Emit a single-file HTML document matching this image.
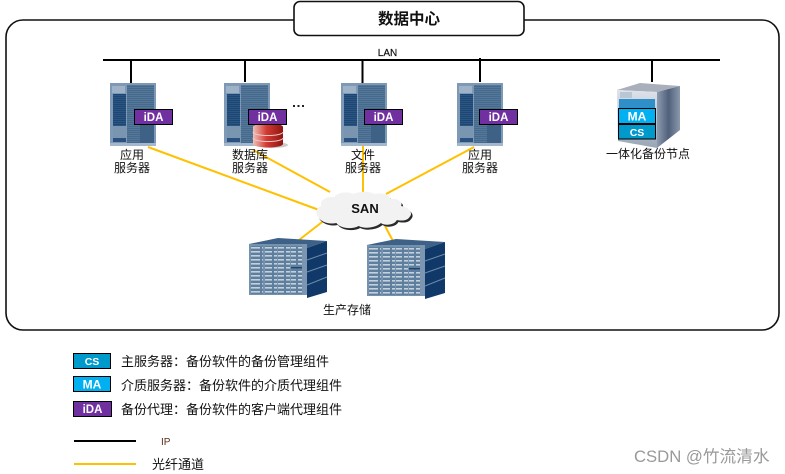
<!DOCTYPE html>
<html><head><meta charset="utf-8"><style>
html,body{margin:0;padding:0;background:#fff}
svg{display:block}
text{font-family:"Liberation Sans","Noto Sans CJK SC",sans-serif;fill:#111}
.c{font-size:12px;text-anchor:middle}
.l{font-size:13px}
.w{font-weight:bold;fill:#fff;text-anchor:middle}
</style></head><body>
<svg width="785" height="474" viewBox="0 0 785 474" xmlns="http://www.w3.org/2000/svg">
<defs>
<pattern id="st" width="3" height="2" patternUnits="userSpaceOnUse"><rect width="3" height="2" fill="#456a8d"/><rect width="3" height="1" fill="#557899"/></pattern>
<pattern id="dk" width="3" height="2" patternUnits="userSpaceOnUse"><rect width="3" height="2" fill="#1d4672"/><rect width="3" height="1" fill="#2b5582"/></pattern>
<pattern id="dr" width="12" height="4" patternUnits="userSpaceOnUse"><rect width="12" height="4" fill="#5f7f9f"/><rect x="1" y="1" width="10" height="1.600" fill="#c4d1dd"/></pattern>
<linearGradient id="side" x1="0" x2="1" y1="0" y2="0"><stop offset="0" stop-color="#8d9bb0"/><stop offset=".5" stop-color="#50617c"/><stop offset="1" stop-color="#8b98ac"/></linearGradient>
<linearGradient id="front" x1="0" x2="0" y1="0" y2="1"><stop offset="0" stop-color="#dfe3ea"/><stop offset="1" stop-color="#9aa5b5"/></linearGradient>
<linearGradient id="red" x1="0" x2="1" y1="0" y2="0"><stop offset="0" stop-color="#f0c0ba"/><stop offset=".45" stop-color="#d23a33"/><stop offset="1" stop-color="#8e1512"/></linearGradient>
<g id="srv">
<rect x="0" y="0" width="46" height="63" fill="#7d99b6"/>
<rect x="2" y="3" width="13" height="7" fill="#9fb3c8"/>
<rect x="3" y="11" width="13" height="32" fill="url(#dk)"/>
<rect x="3" y="43" width="13" height="12" fill="#7a95b0"/>
<rect x="3" y="55" width="13" height="4" fill="#2a5180"/>
<rect x="17" y="2" width="27" height="58" fill="url(#st)"/>
<rect x="30" y="40" width="14" height="20" fill="#3d6286"/>
<rect x="0" y="60" width="46" height="3" fill="#a5b8cb"/>
</g>
<g id="sto">
<polygon points="0,6 29,0 78,3 58,10" fill="#3e6187"/>
<polygon points="58,10 78,3 78,54 58,60" fill="#10396a"/>
<rect x="0" y="6" width="58" height="51" fill="#7491ae"/>
<rect x="2" y="8" width="12" height="48" fill="url(#dr)"/>
<rect x="16" y="8" width="12" height="48" fill="url(#dr)"/>
<rect x="29" y="8" width="12" height="48" fill="url(#dr)"/>
<rect x="42" y="8" width="11" height="48" fill="url(#dr)"/>
<rect x="53" y="6" width="5" height="51" fill="#7c95b0"/>
<path d="M58 22 78 15M58 34 78 27M58 47 78 39" stroke="#6d8aa8" stroke-width="1" fill="none"/>
<rect x="42" y="29" width="11" height="1.500" fill="#1d4672"/>
</g>
<g id="ida"><rect x="0.500" y="0.500" width="38" height="15" fill="#7030a0" stroke="#000"/><text x="19.500" y="12" class="w" style="font-size:11.500px">iDA</text></g>
</defs>

<rect x="6" y="20" width="773" height="310" rx="17" fill="#fff" stroke="#111" stroke-width="1.600"/>
<rect x="294" y="1.500" width="230" height="34" rx="6" fill="#fff" stroke="#111" stroke-width="1.600"/>
<text x="409" y="24" style="font-size:15.500px;font-weight:bold;text-anchor:middle">数据中心</text>

<text x="387.500" y="56" style="font-size:10px;text-anchor:middle;stroke:#111;stroke-width:.2">LAN</text>
<path d="M103 60H720" stroke="#000" stroke-width="2"/>
<path d="M131 60V83M245 60V82M362.500 60V83M480 58V82M652 60V82" stroke="#000" stroke-width="2"/>

<g stroke="#ffc000" stroke-width="2" fill="none">
<path d="M148 147 319 210"/><path d="M253 150 330 192"/><path d="M363 146V193"/><path d="M474 147 386 194"/>
<path d="M326 219 299 240"/><path d="M385 226 393 241"/>
</g>

<use href="#srv" x="110" y="83"/>
<use href="#srv" x="224" y="83"/>
<use href="#srv" x="341" y="83"/>
<use href="#srv" x="457" y="83"/>

<ellipse cx="273" cy="145" rx="15" ry="3" fill="#ccc"/>
<path d="M253 127a15 3.500 0 0 1 30 0v17a15 3.500 0 0 1-30 0z" fill="url(#red)"/>
<path d="M253 132a15 3.500 0 0 0 30 0M253 138a15 3.500 0 0 0 30 0" stroke="#f3c6c2" fill="none" stroke-width="1"/>

<use href="#ida" x="134" y="109"/>
<use href="#ida" x="248" y="109"/>
<use href="#ida" x="364" y="109"/>
<use href="#ida" x="479" y="109"/>

<g fill="#222"><rect x="293" y="105" width="2" height="2"/><rect x="297.500" y="105" width="2" height="2"/><rect x="302" y="105" width="2" height="2"/></g>

<polygon points="617,90 640,83 680,86 657,92" fill="#a9afbb"/>
<polygon points="657,92 680,86 680,130 657,148" fill="url(#side)"/>
<polygon points="617,90 657,92 657,148 618,141" fill="url(#front)"/>
<rect x="619" y="99" width="36" height="9" fill="#2f8fc8"/>
<rect x="620" y="92" width="12" height="6" fill="#b9c7d4"/>
<rect x="618.500" y="108.500" width="37" height="15" fill="#00b0f0" stroke="#000"/>
<rect x="618.500" y="124.500" width="37" height="14.500" fill="#0099cc" stroke="#000"/>
<text x="637" y="120.500" class="w" style="font-size:12px">MA</text>
<text x="637" y="136" class="w" style="font-size:10.500px">CS</text>

<text class="c" x="132" y="159">应用</text><text class="c" x="132" y="172">服务器</text>
<text class="c" x="250" y="159">数据库</text><text class="c" x="250" y="172">服务器</text>
<text class="c" x="363" y="159">文件</text><text class="c" x="363" y="172">服务器</text>
<text class="c" x="480" y="159">应用</text><text class="c" x="480" y="172">服务器</text>
<text class="c" x="648" y="158">一体化备份节点</text>

<g transform="translate(365 210) scale(1.060 1.000) translate(-365 -210)">
<path d="M324 206c-3-6 6-10 12-9 3-5 13-6 18-3 6-3 15-3 20 0 7-2 14 1 15 5 7-1 12 3 10 7 7 1 12 7 8 11-2 4-8 4-12 3-2 5-11 6-15 3-5 5-16 6-21 3-7 4-18 2-21-3-8 2-16-2-18-7-2-5 0-9 4-10z" fill="#2a2a2a" transform="translate(1.500 2)"/>
<path d="M324 206c-3-6 6-10 12-9 3-5 13-6 18-3 6-3 15-3 20 0 7-2 14 1 15 5 7-1 12 3 10 7 7 1 12 7 8 11-2 4-8 4-12 3-2 5-11 6-15 3-5 5-16 6-21 3-7 4-18 2-21-3-8 2-16-2-18-7-2-5 0-9 4-10z" fill="#f2f2f2"/>
</g>
<text x="365" y="213" style="font-size:13px;font-weight:bold;text-anchor:middle">SAN</text>

<use href="#sto" x="249" y="238"/>
<use href="#sto" x="367" y="239"/>
<text class="c" x="347" y="314">生产存储</text>

<rect x="73.500" y="353.500" width="37" height="15" fill="#0099cc" stroke="#000"/>
<text x="92" y="365" class="w" style="font-size:10.500px">CS</text>
<rect x="73.500" y="376.500" width="37" height="15" fill="#00b0f0" stroke="#000"/>
<text x="92" y="388.500" class="w" style="font-size:12px">MA</text>
<use href="#ida" x="73" y="401"/>
<text class="l" x="121" y="366">主服务器：备份软件的备份管理组件</text>
<text class="l" x="121" y="390">介质服务器：备份软件的介质代理组件</text>
<text class="l" x="121" y="414">备份代理：备份软件的客户端代理组件</text>

<path d="M74 441H136" stroke="#000" stroke-width="2"/>
<path d="M74 464H136" stroke="#ffc000" stroke-width="2"/>
<text x="161" y="445" style="font-size:10px;fill:#5a2d1a">IP</text>
<text class="l" x="152" y="469">光纤通道</text>

<text x="634" y="462" style="font-size:16.700px;fill:#999">CSDN @竹流清水</text>
</svg>
</body></html>
